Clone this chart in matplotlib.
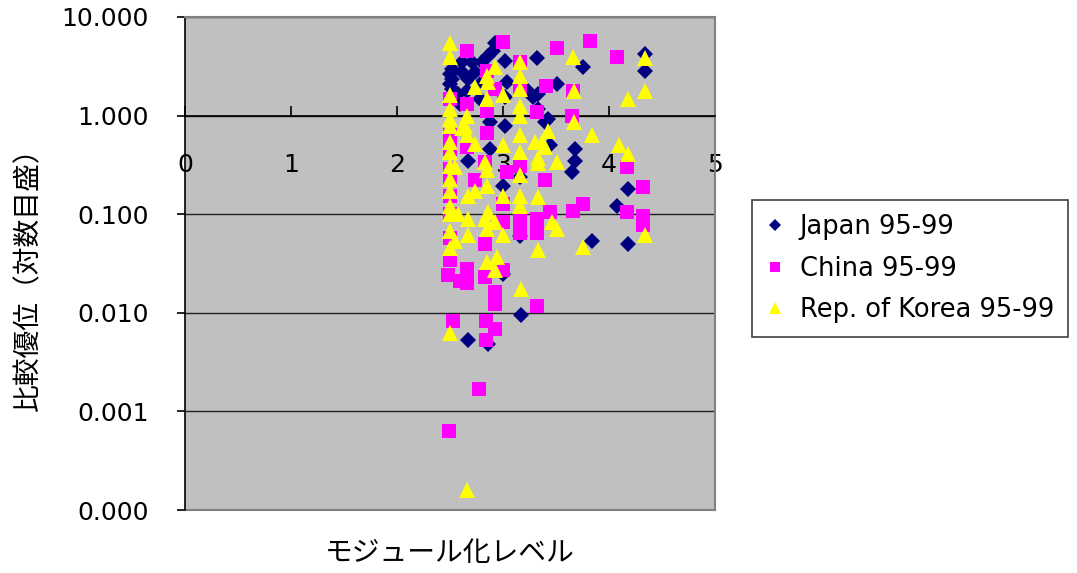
import numpy as np
import matplotlib
matplotlib.use("Agg")
import matplotlib.pyplot as plt
from matplotlib.ticker import FuncFormatter, NullLocator, LogLocator

plt.rcParams['font.family'] = ['DejaVu Sans', 'Noto Sans CJK JP']

# --- data (x = modularity level, y = comparative advantage) ---
japan_x = [2.92, 2.91, 3.02, 2.86, 2.80, 2.71, 2.61, 2.52, 2.52, 2.61,
           2.67, 2.74, 2.80, 2.66, 2.52, 3.04, 3.02, 3.24, 3.32, 3.28,
           3.33, 3.02, 3.75, 3.51, 3.33, 3.42, 2.88, 2.67, 3.16, 3.00,
           3.68, 3.68, 3.65, 3.44, 3.40, 4.18, 4.08, 3.84, 4.18, 4.34,
           4.34, 3.17, 2.67, 2.86, 2.50, 2.50, 2.58, 2.59, 2.78, 3.16,
           3.00, 3.16, 2.88]
japan_y = [5.4, 4.56, 3.6, 4.06, 3.53, 3.53, 3.53, 3.0, 2.37, 2.79,
           2.37, 2.79, 2.21, 1.79, 1.88, 2.21, 1.56, 1.79, 3.8, 1.56,
           1.18, 0.79, 3.14, 2.11, 1.67, 0.93, 0.87, 0.35, 0.24, 0.195,
           0.46, 0.35, 0.27, 0.50, 0.87, 0.18, 0.12, 0.053, 0.050, 4.25,
           2.86, 0.0096, 0.0053, 0.0048, 2.67, 2.11, 1.67, 1.32, 1.49, 0.06,
           0.025, 0.10, 0.46]

china_x = [2.66, 3.00, 3.51, 3.82, 4.08, 2.85, 2.92, 2.66, 2.85, 3.32,
           3.41, 3.66, 3.65, 3.16, 3.16, 2.50, 2.66, 2.85, 2.50, 2.50,
           2.74, 2.83, 3.04, 3.16, 3.40, 3.00, 3.16, 3.32, 3.44, 3.66,
           3.75, 4.17, 4.32, 4.32, 4.17, 4.32, 3.00, 3.16, 3.32, 2.83,
           2.50, 2.48, 2.59, 2.66, 2.66, 2.83, 3.00, 2.92, 2.92, 3.32,
           2.53, 2.84, 2.92, 2.84, 2.77, 2.49, 2.50, 2.50, 2.50, 2.50,
           2.50]
china_y = [4.56, 5.63, 4.8, 5.75, 3.97, 2.86, 1.88, 1.32, 1.12, 1.10,
           2.01, 1.79, 0.98, 3.53, 1.88, 0.63, 0.485, 0.66, 0.29, 0.23,
           0.22, 0.34, 0.27, 0.31, 0.22, 0.128, 0.090, 0.090, 0.106, 0.109,
           0.128, 0.106, 0.097, 0.077, 0.30, 0.19, 0.084, 0.064, 0.064, 0.050,
           0.034, 0.024, 0.021, 0.028, 0.020, 0.023, 0.027, 0.0164, 0.0124, 0.0118,
           0.0082, 0.0082, 0.0069, 0.0053, 0.0017, 0.00064, 0.154, 0.10, 0.057, 0.46,
           1.49]

korea_x = [2.50, 2.50, 2.50, 2.50, 2.50, 2.50, 2.50, 2.50, 2.50, 2.55,
           2.50, 2.50, 2.50, 2.58, 2.50, 2.50, 2.55, 2.50, 2.66, 2.64,
           2.66, 2.66, 2.74, 2.85, 2.86, 2.92, 2.85, 3.00, 3.16, 3.16,
           3.16, 3.16, 3.16, 2.74, 2.83, 2.85, 2.85, 3.00, 3.00, 3.16,
           3.16, 3.16, 3.16, 3.16, 3.30, 3.33, 2.67, 2.74, 2.86, 2.67,
           2.83, 2.92, 2.67, 3.00, 2.85, 2.94, 2.92, 3.17, 3.33, 3.42,
           3.37, 3.40, 3.51, 3.46, 3.51, 3.75, 3.66, 3.67, 3.67, 3.84,
           4.09, 4.18, 4.34, 4.18, 4.34, 4.34, 3.33, 3.33, 2.61, 2.85,
           2.50]
korea_y = [5.4, 3.97, 1.60, 1.18, 0.93, 0.79, 0.545, 0.43, 0.31, 0.30,
           0.17, 0.12, 0.10, 0.10, 0.068, 0.045, 0.054, 0.0062, 0.00016, 0.79,
           0.63, 0.98, 1.97, 2.55, 2.21, 3.14, 1.49, 1.60, 3.53, 2.55,
           1.88, 1.26, 0.98, 0.52, 0.34, 0.28, 0.195, 0.50, 0.154, 0.63,
           0.43, 0.25, 0.154, 0.12, 0.545, 0.37, 0.154, 0.17, 0.106, 0.090,
           0.090, 0.084, 0.061, 0.061, 0.033, 0.037, 0.027, 0.0176, 0.043, 0.69,
           0.545, 0.485, 0.34, 0.084, 0.071, 0.047, 3.97, 1.79, 0.87, 0.63,
           0.50, 0.41, 3.8, 1.49, 1.79, 0.061, 0.15, 0.33, 0.74, 0.071,
           0.23]

series_labels = ["Japan 95-99", "China 95-99", "Rep. of Korea 95-99"]
x_label = "モジュール化レベル"
y_label = "比較優位（対数目盛）"

# --- figure ---
fig = plt.figure(figsize=(10.77, 5.73), dpi=100)
ax = fig.add_axes([185 / 1077, 63 / 573, 530 / 1077, 493 / 573])
ax.set_facecolor("#C0C0C0")

ax.plot(japan_x, japan_y, ls="none", marker="D", ms=8, mfc="#000080", mec="#000080",
        mew=0, label=series_labels[0], zorder=3)
ax.plot(china_x, china_y, ls="none", marker="s", ms=9.5, mfc="#FF00FF", mec="#FF00FF",
        mew=0, label=series_labels[1], zorder=4)
ax.plot(korea_x, korea_y, ls="none", marker="^", ms=11.5, mfc="#FFFF00", mec="#FFFF00",
        mew=0, label=series_labels[2], zorder=5)

ax.set_yscale("log")
ax.set_xlim(0, 5)
ax.set_ylim(1e-4, 10)
ax.yaxis.set_major_locator(LogLocator(base=10, numticks=10))
ax.yaxis.set_minor_locator(NullLocator())
ax.yaxis.set_major_formatter(FuncFormatter(lambda v, p: f"{v:.3f}"))
ax.set_xticks([0, 1, 2, 3, 4, 5])

# x axis crosses at y = 1, ticks pointing up, labels well below
ax.spines["bottom"].set_position(("data", 1))
ax.spines["bottom"].set_color("black")
ax.spines["bottom"].set_linewidth(1.2)
ax.spines["left"].set_color("black")
ax.spines["left"].set_linewidth(1.2)
for s in ["top", "right"]:
    ax.spines[s].set_color("#808080")
    ax.spines[s].set_linewidth(1.5)
ax.axhline(1e-4, color="#808080", lw=1.5, clip_on=False, zorder=2.5)

ax.tick_params(axis="x", direction="in", length=7, width=1.2, pad=27,
               labelsize=18, colors="black")
ax.tick_params(axis="y", direction="out", length=6, width=1.2, pad=20,
               labelsize=18, colors="black")

ax.set_axisbelow(True)
ax.grid(axis="y", which="major", color="#202020", lw=1.0)
ax.grid(axis="x", visible=False)

fig.text(450 / 1077, 1 - 553 / 573, x_label, ha="center", va="center", fontsize=20)
fig.text(28 / 1077, 1 - 272 / 573, y_label, ha="center", va="center", fontsize=20,
         rotation=90)

leg = ax.legend(loc="upper left", bbox_to_anchor=(752 / 1077, 1 - 200 / 573),
                bbox_transform=fig.transFigure, fontsize=18.5, frameon=True,
                fancybox=False, edgecolor="#404040", framealpha=1,
                handlelength=0.7, handletextpad=0.6, labelspacing=0.6,
                borderpad=0.55, borderaxespad=0, markerscale=0.75)
leg.get_frame().set_linewidth(1.2)

fig.savefig("out.png", dpi=100)
